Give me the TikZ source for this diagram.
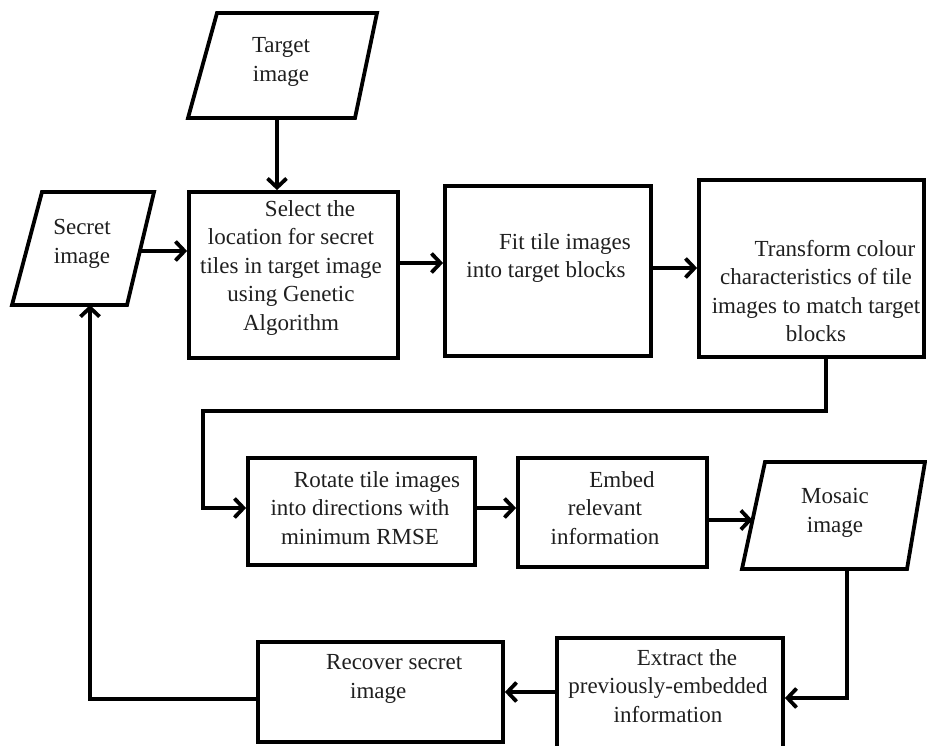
\documentclass[tikz,border=0pt]{standalone}
\usepackage{fontspec}
\setmainfont{Liberation Serif}
\usetikzlibrary{arrows.meta}
\begin{document}
\begin{tikzpicture}[x=1pt,y=-1pt,
  stepbox/.style={draw,line width=3.8pt,inner sep=0pt},
  para/.style={line width=3.8pt,line join=miter},
  txt/.style={align=center,font=\fontsize{23}{28.5}\selectfont,inner sep=0pt,text=black!88},
  conn/.style={line width=3.8pt,-{Straight Barb[length=9pt,width=19pt]}}]
\useasboundingbox (0,0) rectangle (927,746);
\fill[white] (0,0) rectangle (927,746);

% parallelograms (input / output)
\draw[para] (217,13) -- (377,13) -- (355,118) -- (188,118) -- cycle;
\draw[para] (42,192) -- (154,192) -- (127,305) -- (12,305) -- cycle;
\draw[para] (765,462) -- (925,462) -- (907,569) -- (742,569) -- cycle;
\coordinate (targetB) at (277,118);
\coordinate (secretR) at (140,251);
\coordinate (secretB) at (90,305);
\coordinate (mosaicL) at (752.5,520);
\coordinate (mosaicB) at (847,569);
\coordinate (bend) at (203,411);

% process boxes
\node[stepbox,minimum width=209pt,minimum height=166pt] (select) at (293.5,275) {};
\node[stepbox,minimum width=206pt,minimum height=170pt] (fit) at (548,271) {};
\node[stepbox,minimum width=225pt,minimum height=177pt] (transform) at (811.5,268.5) {};
\node[stepbox,minimum width=227pt,minimum height=107pt] (rotate) at (361.5,511.5) {};
\node[stepbox,minimum width=189pt,minimum height=109pt] (embed) at (612.5,512.5) {};
\node[stepbox,minimum width=226pt,minimum height=122pt] (extract) at (670,699) {};
\node[stepbox,minimum width=245pt,minimum height=100pt] (recover) at (380.5,692) {};

% texts
\node[txt] (targetT) at (281,62) {Target\\image};
\node[txt] (secretT) at (82,244) {Secret\\image};
\node[txt] (mosaicT) at (835,513) {Mosaic\\image};
\node[txt] (selectT) at (291,268) {\hspace*{38pt}Select the\\location for secret\\tiles in target image\\using Genetic\\Algorithm};
\node[txt] (fitT) at (546,258) {\hspace*{38pt}Fit tile images\\into target blocks};
\node[txt] (transformT) at (816,291) {\hspace*{38pt}Transform colour\\characteristics of tile\\images to match target\\blocks};
\node[txt] (rotateT) at (360,508) {\hspace*{34pt}Rotate tile images\\into directions with\\minimum RMSE};
\node[txt] (embedT) at (605,508) {\hspace*{34pt}Embed\\relevant\\information};
\node[txt] (extractT) at (668,686) {\hspace*{38pt}Extract the\\previously-embedded\\information};
\node[txt,align=left,anchor=west] (recoverT) at (326,679) {Recover secret\\\hspace*{24pt}image};

% connectors
\draw[conn] (targetB) -- (targetB |- select.north);
\draw[conn] (secretR) -- (secretR -| select.west);
\draw[conn] ([yshift=12pt]select.east) -- ([yshift=12pt]select.east -| fit.west);
\draw[conn] ([yshift=3pt]fit.east) -- ([yshift=3pt]fit.east -| transform.west);
\draw[conn] ([xshift=14.5pt]transform.south) |- (bend) |- ([yshift=3.5pt]rotate.west);
\draw[conn] ([yshift=3.5pt]rotate.east) -- ([yshift=3.5pt]rotate.east -| embed.west);
\draw[conn] ([yshift=-7.5pt]embed.east) -- (mosaicL);
\draw[conn] (mosaicB) |- ([yshift=1pt]extract.east);
\draw[conn] ([yshift=7pt]extract.west) -- ([yshift=7pt]extract.west -| recover.east);
\draw[conn] ([yshift=-7pt]recover.west) -| (secretB);
\end{tikzpicture}
\end{document}
